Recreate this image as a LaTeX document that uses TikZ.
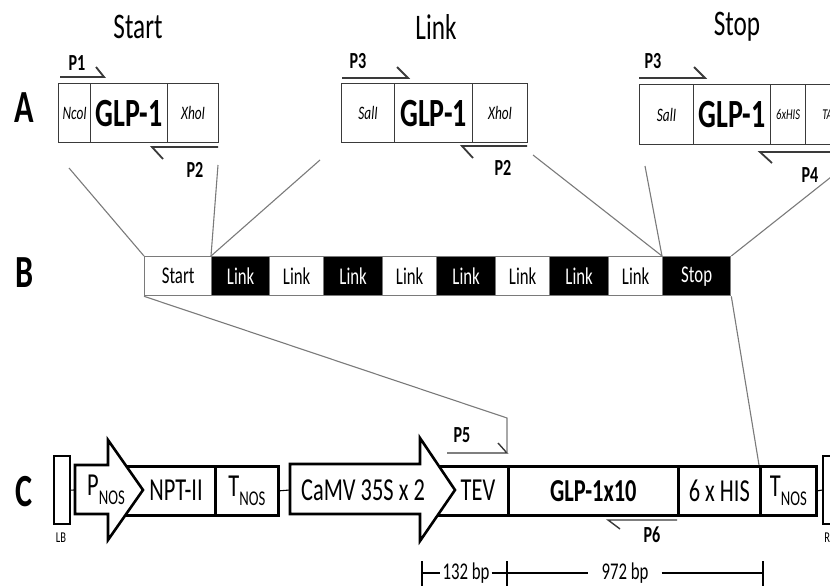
\documentclass[tikz,border=0pt]{standalone}
\usepackage{fontspec}
\setmainfont{Carlito}[FakeStretch=0.7]
\usetikzlibrary{calc}
\definecolor{boxgray}{HTML}{3A3A3A}
\definecolor{linkgray}{HTML}{7A7A7A}
\newcommand{\fsz}[1]{\fontsize{#1}{#1}\selectfont}
\newcommand{\nossub}{\raisebox{-9pt}{\fsz{21}NOS}}
\begin{document}
\begin{tikzpicture}[x=1pt,y=-1pt,
  panel/.style={font=\fsz{46}\bfseries},
  title/.style={font=\fsz{36}},
  plabel/.style={font=\fsz{23}\bfseries},
  site/.style={font=\fsz{19}\itshape},
  smallsite/.style={font=\fsz{15}\itshape},
  glp/.style={font=\fsz{40}\bfseries},
  acell/.style={draw=boxgray, line width=1.2pt, anchor=north west,
    minimum height=59pt, inner sep=0pt},
  primer/.style={draw=boxgray, line width=1.8pt},
  link/.style={draw=linkgray, line width=1.1pt},
  bcell/.style={draw=linkgray, line width=1.3pt, anchor=north west,
    minimum height=39pt, inner sep=0pt, font=\fsz{24}},
  bblack/.style={bcell, fill=black, text=white},
  ccell/.style={draw=black, line width=2.6pt, anchor=north west,
    minimum height=49pt, inner sep=0pt, font=\fsz{32}},
  ctext/.style={font=\fsz{32}},
  promoter/.style={draw=black, line width=2.6pt, fill=white, line join=miter},
  border/.style={draw=black, line width=2.2pt, anchor=north west,
    minimum width=16pt, minimum height=68pt, inner sep=0pt},
  tiny/.style={font=\fsz{15}},
  scaletext/.style={font=\fsz{24}, inner ysep=0pt},
  scaleline/.style={draw=black, line width=1.4pt}]
\useasboundingbox (0,0) rectangle (830,586);
\clip (0,0) rectangle (830,586);

% ---------- panel letters ----------
\node[panel] (lA) at (24,108) {A};
\node[panel] (lB) at (25,273) {B};
\node[panel] (lC) at (24,492) {C};

% ---------- A: Start / Link / Stop modules ----------
\node[title] (tStart) at (138,27) {Start};
\node[title] (tLink) at (436,27) {Link};
\node[title] (tStop) at (737,27) {Stop};

\node[acell, minimum width=32pt, site] (sNco) at (58,83) {NcoI};
\node[acell, minimum width=77pt, glp] (sGlp) at (90,83) {GLP-1};
\node[acell, minimum width=51pt, site] (sXho) at (167,83) {XhoI};

\node[acell, minimum width=53pt, site] (lSal) at (341,83) {SalI};
\node[acell, minimum width=78pt, glp] (lGlp) at (394,83) {GLP-1};
\node[acell, minimum width=55pt, site] (lXho) at (472,83) {XhoI};

\node[acell, minimum width=54pt, minimum height=60pt, site] (tSal) at (639,84) {SalI};
\node[acell, minimum width=77pt, minimum height=60pt, glp] (tGlp) at (693,84) {GLP-1};
\node[acell, minimum width=35pt, minimum height=60pt, smallsite] (tHis) at (770,84) {6xHIS};
\node[acell, minimum width=50pt, minimum height=60pt, smallsite] (tTaa) at (805,84) {TAA};

% primers
\draw[primer] (60,77) -- (104,77) -- (96,67);
\node[plabel] (p1) at (77,63) {P1};
\draw[primer] (163,159) -- (152,147) -- (218,147);
\node[plabel] (p2a) at (195,170) {P2};

\draw[primer] (342,78) -- (408,78) -- (397,67);
\node[plabel] (p3a) at (358,61) {P3};
\draw[primer] (473,158) -- (462,146) -- (527,146);
\node[plabel] (p2b) at (503,168) {P2};

\draw[primer] (639,78) -- (705,78) -- (694,67);
\node[plabel] (p3b) at (653,61) {P3};
\draw[primer] (772,163) -- (760,152) -- (845,152);
\node[plabel] (p4) at (810,175) {P4};

% ---------- B: assembled concatemer ----------
\node[bcell, minimum width=67pt] (bStart) at (144,256) {Start};
\node[bblack, minimum width=58pt] (bL1) at (211,256) {Link};
\node[bcell, minimum width=54pt] (bL2) at (269,256) {Link};
\node[bblack, minimum width=59pt] (bL3) at (323,256) {Link};
\node[bcell, minimum width=54pt] (bL4) at (382,256) {Link};
\node[bblack, minimum width=59pt] (bL5) at (436,256) {Link};
\node[bcell, minimum width=54pt] (bL6) at (495,256) {Link};
\node[bblack, minimum width=59pt] (bL7) at (549,256) {Link};
\node[bcell, minimum width=54pt] (bL8) at (608,256) {Link};
\node[bblack, minimum width=68pt] (bStop) at (662,256) {Stop};

% A -> B guide lines
\coordinate (a1) at (69,168);
\coordinate (a2) at (218,165);
\coordinate (a3) at (320,160);
\coordinate (a4) at (533,155);
\coordinate (a5) at (645,166);
\coordinate (a6) at (850,162);
\draw[link] (a1) -- (bStart.north west);
\draw[link] (a2) -- (bL1.north west);
\draw[link] (a3) -- (bL1.north west);
\draw[link] (a4) -- (bStop.north west);
\draw[link] (a5) -- (bStop.north west);
\draw[link] (a6) -- (bStop.north east);

% ---------- C: T-DNA expression cassette ----------
\node[border] (lb) at (53,455) {};
\node[tiny] (lbt) at (61,538) {LB};

\node[ccell, minimum width=106pt] (npt) at (108,465) {};
\node[ccell, minimum width=63pt] (tnos1) at (214,465) {T\nossub};

\node[ccell, minimum width=87pt] (tev) at (420,465) {};
\node[ccell, minimum width=170pt, font=\fsz{32}\bfseries] (gx) at (507,465) {GLP-1x10};
\node[ccell, minimum width=82pt] (his) at (677,465) {6 x HIS};
\node[ccell, minimum width=56pt] (tnos2) at (759,465) {T\nossub};

\node[border] (rb) at (822,455) {};
\node[tiny] (rbt) at (830,538) {RB};

% promoter arrows
\coordinate (pnTail) at (75,490);
\draw[promoter] (75,465) -- (108,465) -- (108,440) -- (143,490) -- (108,540)
  -- (108,514) -- (75,514) -- cycle;
\coordinate (cvTail) at (290,490);
\draw[promoter] (290,464) -- (420,464) -- (420,438) -- (455,490) -- (420,541)
  -- (420,514) -- (290,514) -- cycle;

\node[ctext] (pnos) at (106,490) {P\nossub};
\node[ctext] (nptt) at (176,490) {NPT-II};
\node[ctext] (camv) at (363,490) {CaMV 35S x 2};
\node[ctext] (tevt) at (478,490) {TEV};

% backbone
\draw[link, draw=black] (lb.east) -- (pnTail);
\draw[link, draw=black] (tnos1.east) -- (cvTail);
\draw[link, draw=black] (tnos2.east) -- (rb.west);

% primers P5 / P6
\draw[primer, line width=1.4pt] (447,453) -- (507,453) -- (498,443);
\node[plabel] (p5) at (462,435) {P5};
\draw[primer, line width=1.4pt] (620,529) -- (608,520) -- (677,520);
\node[plabel] (p6) at (652,535) {P6};

% B -> C guide lines
\coordinate (k5) at (507,418);
\draw[link] (bStart.south west) -- (k5) -- ($(gx.north west)+(0,-13)$);
\draw[link] (bStop.south east) -- (tnos2.north west);

% size scale
\coordinate (tk1) at (422,573);
\coordinate (tk2) at (507,573);
\coordinate (tk3) at (763,573);
\node[scaletext, inner xsep=2pt] (bp132) at (466,573) {132 bp};
\node[scaletext, inner xsep=13pt] (bp972) at (625,573) {972 bp};
\draw[scaleline] (422,561) -- (422,592);
\draw[scaleline, line width=2pt] (507,561) -- (507,592);
\draw[scaleline, line width=2pt] (763,561) -- (763,592);
\draw[scaleline] (tk1) -- (bp132);
\draw[scaleline] (bp132) -- (tk2) -- (bp972);
\draw[scaleline] (bp972) -- (tk3);
\end{tikzpicture}
\end{document}
